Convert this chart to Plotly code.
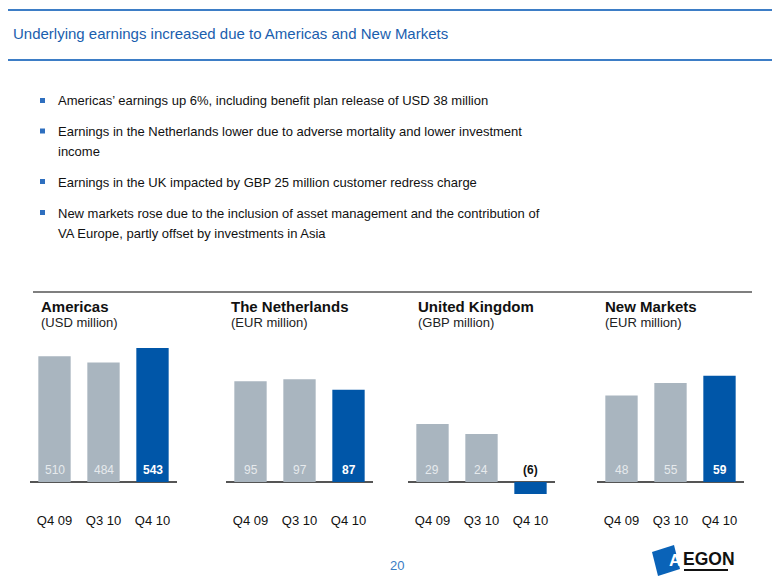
import plotly.graph_objects as go

# ---------------- data ----------------
title_text = "Underlying earnings increased due to Americas and New Markets"
bullet_lines = [
    ["Americas’ earnings up 6%, including benefit plan release of USD 38 million"],
    ["Earnings in the Netherlands lower due to adverse mortality and lower investment", "income"],
    ["Earnings in the UK impacted by GBP 25 million customer redress charge"],
    ["New markets rose due to the inclusion of asset management and the contribution of",
     "VA Europe, partly offset by investments in Asia"],
]
quarters = ["Q4 09", "Q3 10", "Q4 10"]
regions = ["Americas", "The Netherlands", "United Kingdom", "New Markets"]
units = ["(USD million)", "(EUR million)", "(GBP million)", "(EUR million)"]
americas = [510, 484, 543]
netherlands = [95, 97, 87]
united_kingdom = [29, 24, -6]
new_markets = [48, 55, 59]
page_number = "20"

# ---------------- layout constants ----------------
OFF = 8                      # page body margin of the html page
W, H = 780 - OFF, 585 - OFF  # figure size so it fits the window exactly
GREY = "#A9B5BF"
BLUE = "#0056A8"
TITLE_BLUE = "#1A5EAE"
LINE_BLUE = "#3D7DC6"
AXIS_GREY = "#555555"
SANS = "Liberation Sans, Arial, sans-serif"

panel_x = [(30, 177), (226, 373), (408, 555), (597, 744)]
panel_title_x = [38.5, 228.5, 415.5, 602.5]
px_per_unit = [0.2468, 1.06, 2.0, 1.8]
base_py = 482
dom_top, dom_bot = 330, 505


def fx(px):
    return (px - OFF) / W


def fy(py):
    return 1 - (py - OFF) / H


series = [americas, netherlands, united_kingdom, new_markets]

fig = go.Figure()
annotations = []
shapes = []
layout_axes = {}

for i, vals in enumerate(series):
    n = i + 1
    xa = "x" if n == 1 else f"x{n}"
    ya = "y" if n == 1 else f"y{n}"
    colors = [GREY] * (len(vals) - 1) + [BLUE]
    fig.add_trace(go.Bar(
        x=list(range(len(vals))), y=vals, xaxis=xa, yaxis=ya,
        marker=dict(color=colors, line=dict(width=0)), width=0.66,
        hoverinfo="skip", showlegend=False,
    ))
    x0, x1 = panel_x[i]
    ppu = px_per_unit[i]
    layout_axes["xaxis" if n == 1 else f"xaxis{n}"] = dict(
        domain=[fx(x0), fx(x1)], range=[-0.5, len(vals) - 0.5],
        tickvals=list(range(len(vals))), ticktext=quarters,
        showgrid=False, zeroline=False, showline=False,
        ticks="outside", ticklen=3, tickcolor="rgba(0,0,0,0)",
        tickfont=dict(family=SANS, size=13, color="#111111"),
        anchor=ya, fixedrange=True,
    )
    layout_axes["yaxis" if n == 1 else f"yaxis{n}"] = dict(
        domain=[fy(dom_bot), fy(dom_top)],
        range=[-(dom_bot - base_py) / ppu, (base_py - dom_top) / ppu],
        showgrid=False, showticklabels=False, showline=False,
        zeroline=True, zerolinecolor=AXIS_GREY, zerolinewidth=1.5,
        anchor=xa, fixedrange=True,
    )
    # bar value labels
    for j, v in enumerate(vals):
        last = j == len(vals) - 1
        if v < 0:
            txt, col, bold = f"({abs(v)})", "#111111", True
        elif last:
            txt, col, bold = str(v), "#FFFFFF", True
        else:
            txt, col, bold = str(v), "#E6EAED", False
        annotations.append(dict(
            x=j, y=0, xref=xa, yref=ya, text=f"<b>{txt}</b>" if bold else txt,
            showarrow=False, yanchor="bottom", yshift=3,
            font=dict(family=SANS, size=12, color=col),
        ))
    # panel titles
    annotations.append(dict(
        x=fx(panel_title_x[i]), y=fy(306), xref="paper", yref="paper",
        text=f"<b>{regions[i]}</b>", showarrow=False, xanchor="left", yanchor="middle",
        font=dict(family=SANS, size=15, color="#111111"),
    ))
    annotations.append(dict(
        x=fx(panel_title_x[i]), y=fy(323), xref="paper", yref="paper",
        text=units[i], showarrow=False, xanchor="left", yanchor="middle",
        font=dict(family=SANS, size=13, color="#222222"),
    ))

# title and its rules
annotations.append(dict(
    x=fx(11), y=fy(34), xref="paper", yref="paper", text=title_text,
    showarrow=False, xanchor="left", yanchor="middle",
    font=dict(family=SANS, size=15, color=TITLE_BLUE),
))
for py in (10, 60):
    shapes.append(dict(type="line", xref="paper", yref="paper",
                       x0=0, x1=1, y0=fy(py), y1=fy(py),
                       line=dict(color=LINE_BLUE, width=2)))

# bullets
line_y = [[101], [131.5, 151.5], [182], [213, 233.5]]
for lines, ys in zip(bullet_lines, line_y):
    shapes.append(dict(type="rect", xref="paper", yref="paper",
                       x0=fx(40), x1=fx(45), y0=fy(ys[0] - 3), y1=fy(ys[0] + 2),
                       fillcolor="#2E6FBF", line=dict(width=0)))
    for t, yy in zip(lines, ys):
        annotations.append(dict(
            x=fx(55.5), y=fy(yy), xref="paper", yref="paper", text=t,
            showarrow=False, xanchor="left", yanchor="middle",
            font=dict(family=SANS, size=13, color="#111111"),
        ))

# panel separator
shapes.append(dict(type="line", xref="paper", yref="paper",
                   x0=fx(33), x1=fx(752), y0=fy(292), y1=fy(292),
                   line=dict(color="#555555", width=1.5)))

# page number
annotations.append(dict(
    x=fx(397), y=fy(565), xref="paper", yref="paper", text=page_number,
    showarrow=False, xanchor="center", yanchor="middle",
    font=dict(family=SANS, size=13, color="#3A7CC4"),
))

# logo
shapes.append(dict(type="path", xref="paper", yref="paper",
                   path=f"M {fx(652)},{fy(552)} L {fx(674)},{fy(545)} L {fx(680)},{fy(569)} L {fx(658)},{fy(576)} Z",
                   fillcolor="#0A63B8", line=dict(width=0)))
annotations.append(dict(
    x=fx(675), y=fy(560), xref="paper", yref="paper", text="<b>A</b>",
    showarrow=False, xanchor="center", yanchor="middle",
    font=dict(family=SANS, size=17, color="#FFFFFF"),
))
annotations.append(dict(
    x=fx(681), y=fy(559), xref="paper", yref="paper", text="<b>EGON</b>",
    showarrow=False, xanchor="left", yanchor="middle",
    font=dict(family=SANS, size=17.5, color="#111111"),
))
shapes.append(dict(type="line", xref="paper", yref="paper",
                   x0=fx(684), x1=fx(728), y0=fy(570), y1=fy(570),
                   line=dict(color="#111111", width=2)))

fig.update_layout(
    width=W, height=H, margin=dict(l=0, r=0, t=0, b=0),
    paper_bgcolor="#FFFFFF", plot_bgcolor="rgba(0,0,0,0)",
    bargap=0.34, showlegend=False,
    annotations=annotations, shapes=shapes,
    **layout_axes,
)

fig.write_html("out.html")
